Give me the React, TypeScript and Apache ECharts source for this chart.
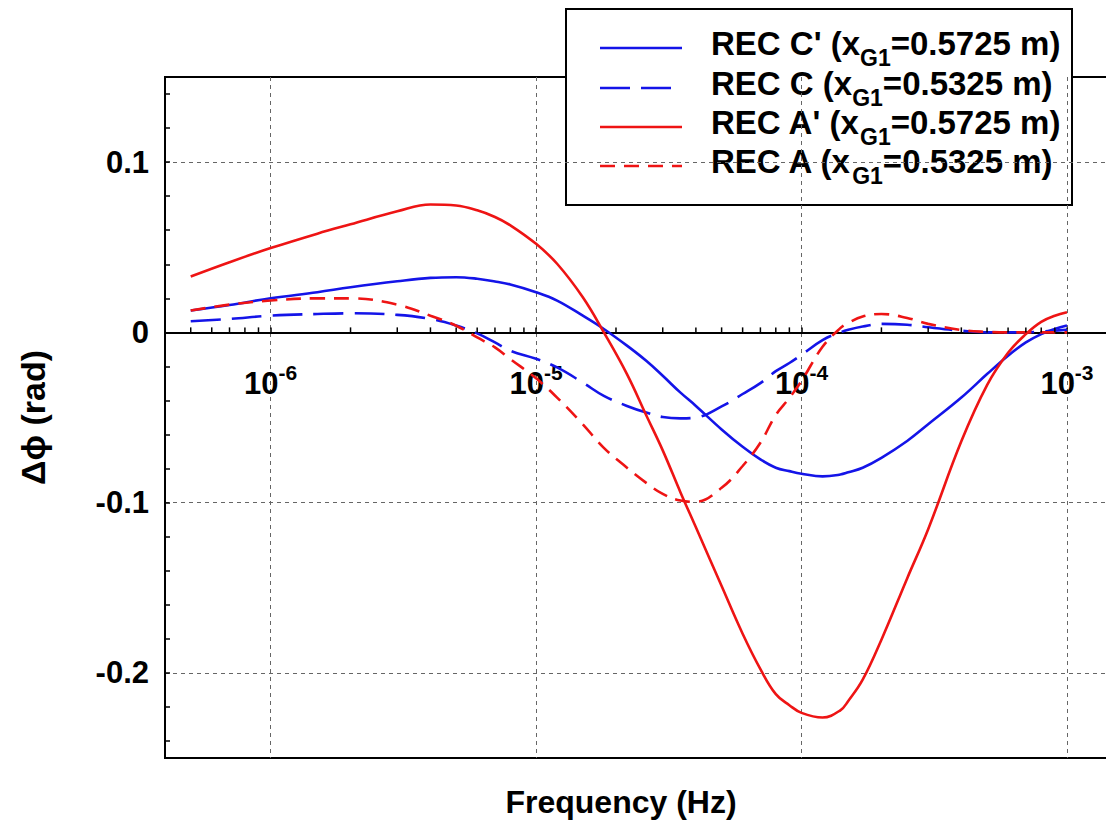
import React, { useEffect, useRef } from "react";
import * as echarts from "echarts";

// ---------- data ----------
const frequencies = [
  5e-7, 7e-7, 1e-6, 1.5e-6, 2e-6, 3e-6, 4e-6, 5e-6, 6e-6, 7e-6, 8e-6,
  1e-5, 1.2e-5, 1.5e-5, 1.8e-5, 2.2e-5, 2.6e-5, 3e-5, 3.5e-5, 4e-5, 5e-5, 6e-5, 7e-5, 8e-5, 9e-5,
  1e-4, 1.2e-4, 1.4e-4, 1.5e-4, 1.7e-4, 2e-4, 2.5e-4, 3e-4, 4e-4, 5e-4, 6e-4, 7e-4, 8e-4, 9e-4, 1e-3,
];

// REC C' (x_G1 = 0.5725 m) - blue solid
const recCPrime = [
  0.0128, 0.0161, 0.02, 0.0236, 0.0265, 0.03, 0.032, 0.0324, 0.0315, 0.0299, 0.0281,
  0.0236, 0.0187, 0.0098, 0.002, -0.0078, -0.0167, -0.0255, -0.0354, -0.0432, -0.057, -0.0672, -0.0746, -0.0795, -0.0815,
  -0.083, -0.0846, -0.0835, -0.0822, -0.0795, -0.0737, -0.0638, -0.054, -0.0383, -0.0245, -0.0137, -0.0059, -0.001, 0.002, 0.004,
];

// REC C (x_G1 = 0.5325 m) - blue long dash
const recC = [
  0.0065, 0.0079, 0.0098, 0.0108, 0.0112, 0.0103, 0.0079, 0.004, -0.0006, -0.0059, -0.0108,
  -0.0155, -0.0206, -0.0295, -0.0373, -0.0432, -0.0471, -0.0497, -0.0505, -0.05, -0.0435, -0.0362, -0.0298, -0.0228, -0.018,
  -0.0132, -0.0045, 0.0, 0.0015, 0.0034, 0.005, 0.0045, 0.003, 0.001, 0.0, 0.0, 0.0, 0.0005, 0.001, 0.0015,
];

// REC A' (x_G1 = 0.5725 m) - red solid
const recAPrime = [
  0.0328, 0.0412, 0.0495, 0.058, 0.0635, 0.0711, 0.0751, 0.0745, 0.0717, 0.0678, 0.0629,
  0.052, 0.0403, 0.0206, 0.0, -0.0245, -0.0487, -0.0693, -0.094, -0.1145, -0.149, -0.177, -0.1978, -0.2125, -0.219,
  -0.2235, -0.2262, -0.222, -0.2165, -0.204, -0.1805, -0.1445, -0.1156, -0.064, -0.031, -0.012, -0.001, 0.0062, 0.0098, 0.0118,
];

// REC A (x_G1 = 0.5325 m) - red dash
const recA = [
  0.0128, 0.0163, 0.0187, 0.02, 0.02, 0.0163, 0.0098, 0.0039, -0.003, -0.0088, -0.0157,
  -0.027, -0.0383, -0.054, -0.0678, -0.0795, -0.0884, -0.0949, -0.0988, -0.0995, -0.0913, -0.0785, -0.0648, -0.0485, -0.0385,
  -0.0285, -0.0085, 0.0025, 0.0055, 0.0093, 0.0108, 0.0085, 0.005, 0.0014, 0.0003, 0.0, 0.0, 0.0, 0.0, 0.0,
];

const seriesNames = ["REC C'", "REC C", "REC A'", "REC A"];
const gaugePositions = ["0.5725", "0.5325", "0.5725", "0.5325"];

// minor (2..9 x decade) tick positions on the zero line
const minorTickFreqs = [
  5e-7, 6e-7, 7e-7, 8e-7, 9e-7,
  2e-6, 3e-6, 4e-6, 5e-6, 6e-6, 7e-6, 8e-6, 9e-6,
  2e-5, 3e-5, 4e-5, 5e-5, 6e-5, 7e-5, 8e-5, 9e-5,
  2e-4, 3e-4, 4e-4, 5e-4, 6e-4, 7e-4, 8e-4, 9e-4,
];

const X_MIN = 4e-7;
const X_MAX = 1.44e-3;
const Y_MIN = -0.25;
const Y_MAX = 0.15;

// ---------- styles ----------
const FONT = "'Liberation Sans', Arial, Helvetica, sans-serif";
const BLUE = "#1414e8";
const RED = "#ee1414";
const BLUE_DASH = [30, 11];
const RED_DASH = [15, 9];

const seriesStyles = [
  { color: BLUE, dash: null as number[] | null },
  { color: BLUE, dash: BLUE_DASH },
  { color: RED, dash: null as number[] | null },
  { color: RED, dash: RED_DASH },
];
const seriesValues = [recCPrime, recC, recAPrime, recA];

export default function App() {
  const ref = useRef<HTMLDivElement>(null);

  useEffect(() => {
    if (!ref.current) return;
    const chart = echarts.init(ref.current, undefined, { renderer: "svg" });

    const H = 839;
    const gridTop = 77;
    const gridBottom = 81;
    const plotH = H - gridTop - gridBottom;
    const zeroY = gridTop + ((Y_MAX - 0) / (Y_MAX - Y_MIN)) * plotH;

    const lineSeries = seriesValues.map((vals, i) => ({
      name: seriesNames[i],
      type: "line",
      xAxisIndex: 0,
      yAxisIndex: 0,
      data: frequencies.map((f, j) => [f, vals[j]]),
      showSymbol: false,
      symbol: "none",
      smooth: 0.4,
      lineStyle: {
        color: seriesStyles[i].color,
        width: 2.6,
        type: seriesStyles[i].dash ? seriesStyles[i].dash : "solid",
      },
      itemStyle: { color: seriesStyles[i].color },
      z: 3,
    }));

    const legendRowsY = [48, 88, 127, 166];
    const legendElements: any[] = [
      {
        type: "rect",
        shape: { x: 566, y: 9, width: 506, height: 196 },
        style: { fill: "#fff", stroke: "#000", lineWidth: 2 },
      },
    ];
    seriesNames.forEach((name, i) => {
      const y = legendRowsY[i];
      legendElements.push({
        type: "line",
        shape: { x1: 600, y1: y, x2: 682, y2: y },
        style: {
          stroke: seriesStyles[i].color,
          lineWidth: 2.6,
          lineDash: seriesStyles[i].dash || undefined,
        },
      });
      legendElements.push({
        type: "text",
        x: 711,
        y: y - 18,
        style: {
          text: `{a|${name} (x}{s|G1}{a|=${gaugePositions[i]} m)}`,
          align: "left",
          verticalAlign: "top",
          fill: "#000",
          rich: {
            a: {
              fontSize: 33,
              fontWeight: "bold",
              fontFamily: FONT,
              fill: "#000",
              lineHeight: 36,
              padding: [0, 0, 10, 0],
            },
            s: {
              fontSize: 23,
              fontWeight: "bold",
              fontFamily: FONT,
              fill: "#000",
              lineHeight: 23,
              padding: [21, 0, 2, 0],
            },
          },
        },
      });
    });

    const splitLineStyle = { color: "#666", width: 1, type: [4, 4] };
    const tickStyle = { color: "#000", width: 1.5 };

    const option: any = {
      animation: false,
      backgroundColor: "#fff",
      grid: [
        {
          left: 165,
          right: -3,
          top: gridTop,
          bottom: gridBottom,
          show: true,
          borderColor: "#000",
          borderWidth: 2,
          backgroundColor: "transparent",
          containLabel: false,
          outerBoundsMode: "none",
        },
        {
          // helper grid whose bottom edge is the zero line (carries the x tick labels)
          left: 165,
          right: -3,
          top: gridTop,
          bottom: H - zeroY,
          show: false,
          containLabel: false,
          outerBoundsMode: "none",
        },
      ],
      xAxis: [
        {
          gridIndex: 0,
          type: "log",
          logBase: 10,
          min: X_MIN,
          max: X_MAX,
          axisLine: { show: false },
          axisTick: { show: false },
          axisLabel: { show: false },
          splitLine: { show: true, showMinLine: false, showMaxLine: false, lineStyle: splitLineStyle },
          name: "Frequency (Hz)",
          nameLocation: "middle",
          nameGap: 28,
          nameTextStyle: {
            fontSize: 32,
            fontWeight: "bold",
            fontFamily: FONT,
            color: "#000",
            padding: [0, 32, 0, 0],
          },
        },
        {
          gridIndex: 1,
          type: "log",
          logBase: 10,
          min: X_MIN,
          max: X_MAX,
          axisLine: { show: true, onZero: false, lineStyle: { color: "#000", width: 2 } },
          axisTick: { show: true, inside: true, length: 5, lineStyle: tickStyle },
          axisLabel: {
            showMinLabel: false,
            showMaxLabel: false,
            margin: 33,
            formatter: (v: number) => `{b|10}{s|${Math.round(Math.log10(v))}}`,
            rich: {
              b: { fontSize: 31, fontWeight: "bold", fontFamily: FONT, color: "#000", lineHeight: 30, padding: [6, 0, 0, 0] },
              s: { fontSize: 21, fontWeight: "bold", fontFamily: FONT, color: "#000", lineHeight: 20, padding: [0, 0, 16, 0] },
            },
          },
          splitLine: { show: false },
        },
      ],
      yAxis: [
        {
          gridIndex: 0,
          type: "value",
          min: Y_MIN,
          max: Y_MAX,
          splitNumber: 4,
          axisLine: { show: true, lineStyle: { color: "#000", width: 2 } },
          axisTick: { show: true, inside: true, length: 5, lineStyle: tickStyle },
          minorTick: { show: true, splitNumber: 5, length: 5, lineStyle: tickStyle },
          axisLabel: {
            showMinLabel: false,
            showMaxLabel: false,
            margin: 16,
            fontSize: 31,
            fontWeight: "bold",
            fontFamily: FONT,
            color: "#000",
          },
          splitLine: { show: true, showMinLine: false, showMaxLine: false, lineStyle: splitLineStyle },
          name: "Δϕ (rad)",
          nameLocation: "middle",
          nameRotate: 90,
          nameGap: 115,
          nameTextStyle: { fontSize: 34, fontWeight: "bold", fontFamily: FONT, color: "#000" },
        },
        {
          gridIndex: 1,
          type: "value",
          min: 0,
          max: Y_MAX,
          show: false,
        },
      ],
      series: [
        ...lineSeries,
        {
          type: "custom",
          name: "minorTicks",
          xAxisIndex: 0,
          yAxisIndex: 0,
          silent: true,
          clip: false,
          z: 5,
          encode: { x: 0, y: 1 },
          data: minorTickFreqs.map((f) => [f, 0]),
          renderItem: (_params: any, api: any) => {
            const p = api.coord([api.value(0), api.value(1)]);
            return {
              type: "line",
              shape: { x1: p[0], y1: p[1], x2: p[0], y2: p[1] - 5 },
              style: { stroke: "#000", lineWidth: 1.5 },
            };
          },
        },
      ],
      graphic: [{ type: "group", z: 100, children: legendElements }],
    };

    chart.setOption(option);
    return () => chart.dispose();
  }, []);

  return (
    <div
      ref={ref}
      style={{ position: "absolute", left: 0, top: 0, width: 1106, height: 839 }}
    />
  );
}
